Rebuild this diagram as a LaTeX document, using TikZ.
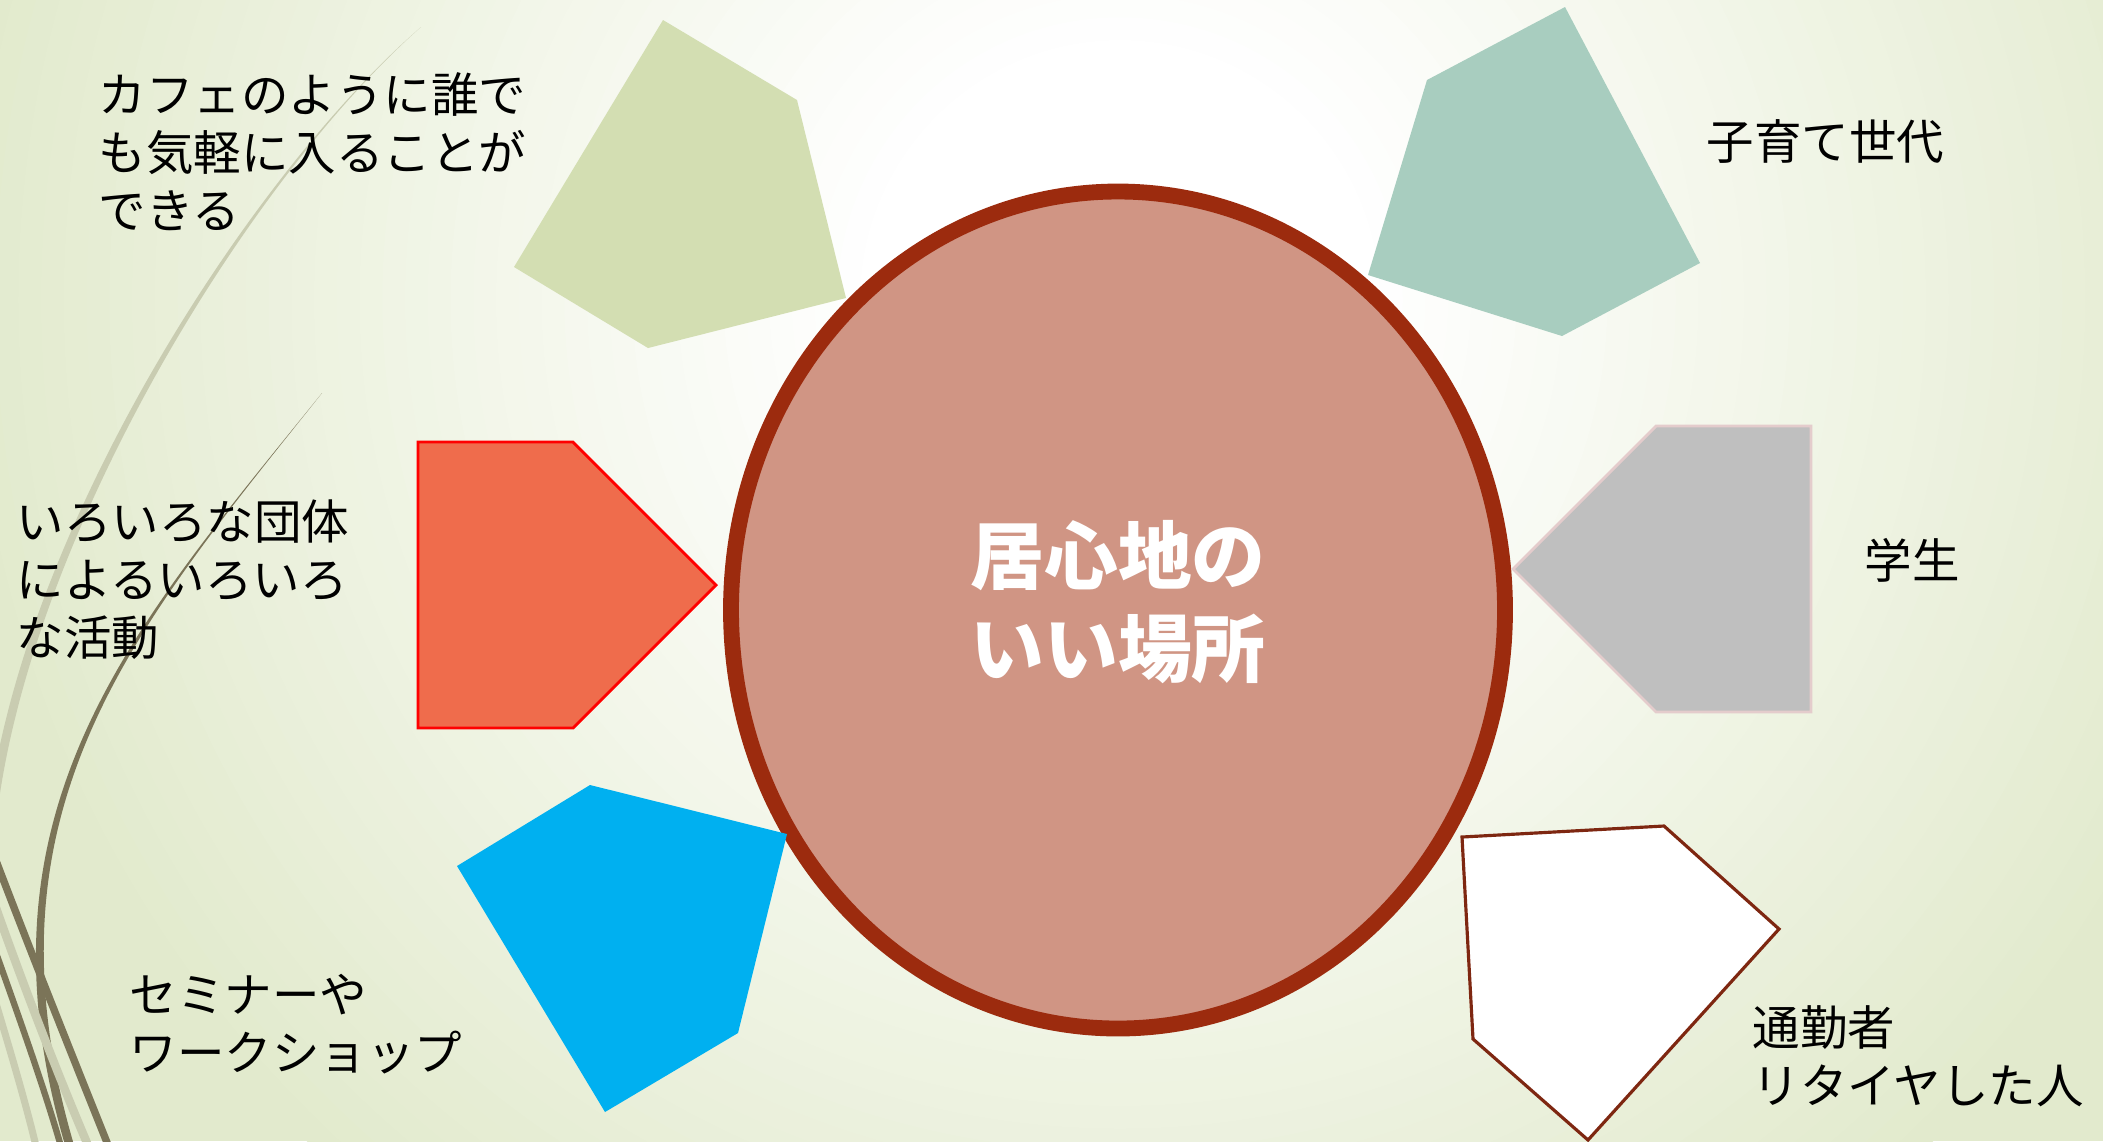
\documentclass[tikz,border=0pt]{standalone}
\usepackage{fontspec}
\setmainfont{Noto Sans CJK JP}
\definecolor{bggreen}{HTML}{E2EACD}
\definecolor{ringred}{HTML}{9C2B0E}
\definecolor{circfill}{HTML}{D09584}
\definecolor{pgreen}{HTML}{D3DEB2}
\definecolor{pteal}{HTML}{A8CDBF}
\definecolor{pblue}{HTML}{00B0F0}
\definecolor{pred}{HTML}{EF6C4C}
\definecolor{pgray}{HTML}{BFBFBF}
\definecolor{pgrayline}{HTML}{E4CCCC}
\definecolor{pbrown}{HTML}{7E2711}
\definecolor{stemdark}{HTML}{7B7458}
\definecolor{stemlight}{HTML}{C9CCB1}
\begin{document}
\begin{tikzpicture}[x=0.01cm,y=-0.01cm,
  lbl/.style={anchor=west, align=left, inner sep=0pt, font=\fontsize{13.5}{16.5}\selectfont, text=black},
  ctr/.style={align=center, inner sep=0pt, font=\fontsize{21}{26.2}\selectfont\bfseries, text=white}]
\useasboundingbox (0,0) rectangle (2103,1141);
\begin{scope}
  \clip (0,0) rectangle (2103,1141);
  \fill[bggreen] (0,0) rectangle (2103,1141);
  \foreach \i in {0,...,40} {
    \pgfmathsetmacro\dd{0.9 - \i*0.7/40}
    \pgfmathsetmacro\pp{(\dd-0.2)/0.7*100}
    \fill[bggreen!\pp!white] (1120,300) circle ({\dd*1300});
  }
  % decorative stems
  \fill[stemlight] (421,27) .. controls (250,175) and (30,520) .. (-10,800) -- (-1,800) .. controls (39,521) and (252,176) .. (421,27) -- cycle;
  \fill[stemdark] (322,393) .. controls (133,627) and (-33,809) .. (65,1145) -- (74,1145) .. controls (-25,809) and (135,628) .. (322,393) -- cycle;
  \draw[stemlight, line width=2.4pt] (-5,905) .. controls (25,990) and (60,1080) .. (90,1150);
  \draw[stemdark, line width=2.1pt] (-5,858) .. controls (30,950) and (70,1050) .. (110,1150);
  \draw[stemdark, line width=1.8pt] (-5,950) .. controls (20,1020) and (45,1090) .. (62,1150);
  \draw[stemlight, line width=2pt] (-5,1000) .. controls (10,1050) and (25,1100) .. (37,1150);
\end{scope}
% central circle
\draw[ringred, line width=4.5pt, fill=circfill] (1118,610) ellipse (387 and 418.5);
% pentagons
\fill[pgreen] (663,20) -- (797,100) -- (846,298) -- (648,348) -- (514,267) -- cycle;
\fill[pteal] (1565,7) -- (1700,263) -- (1562,336) -- (1368,275) -- (1427,80) -- cycle;
\filldraw[fill=pred, draw=red, line width=0.8pt] (418,442) -- (573,442) -- (716,585) -- (573,728) -- (418,728) -- cycle;
\filldraw[fill=pgray, draw=pgrayline, line width=0.8pt] (1513,569) -- (1656,426) -- (1811,426) -- (1811,712) -- (1656,712) -- cycle;
\fill[pblue] (590,785) -- (787,834) -- (738,1033) -- (605,1112) -- (457,866) -- cycle;
\filldraw[fill=white, draw=pbrown, line width=0.9pt] (1462,837) -- (1664,826) -- (1779,929) -- (1588,1140) -- (1473,1039) -- cycle;
% texts
\node[ctr] (center) at (1118,602) {居心地の\\いい場所};
\node[lbl] (t1) at (98,152) {カフェのように誰で\\も気軽に入ることが\\できる};
\node[lbl] (t2) at (16,580) {いろいろな団体\\によるいろいろ\\な活動};
\node[lbl] (t3) at (129,1024) {セミナーや\\ワークショップ};
\node[lbl] (t4) at (1706,141) {子育て世代};
\node[lbl] (t5) at (1864,560) {学生};
\node[lbl] (t6) at (1752,1056) {通勤者\\リタイヤした人};
\end{tikzpicture}
\end{document}
